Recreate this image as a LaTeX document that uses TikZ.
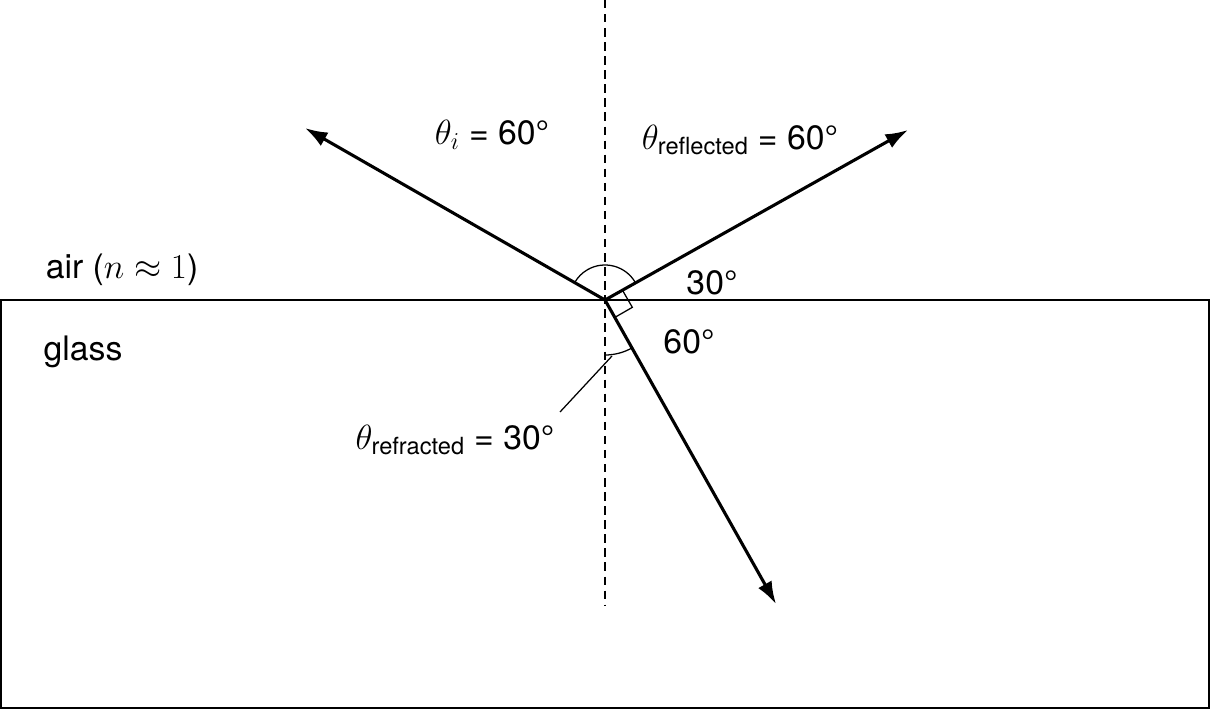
\documentclass[tikz,border=0pt]{standalone}
\usepackage{amsmath}
\usepackage{fontspec}
\setmainfont{TeX Gyre Heros}
\usetikzlibrary{arrows.meta}
\begin{document}
\begin{tikzpicture}[x=0.025cm,y=-0.025cm,
    ray/.style={line width=2.2pt,-{Latex[length=16pt,width=11pt]}},
    thin/.style={line width=0.9pt},
    lbl/.style={font=\fontsize{24}{28}\selectfont,inner sep=0pt}]
    \useasboundingbox (0,0) rectangle (1210,709);
    % surface and normal
    \draw[thin] (1,300) rectangle (1209,708);
    \draw[thin,dash pattern=on 6pt off 4pt] (605,0) -- (605,606);
    \coordinate (o) at (605,300);
    \coordinate (inc) at (305,128);
    \coordinate (refl) at (908,130);
    \coordinate (refr) at (776,604);
    \draw[ray] (o) -- (inc);
    \draw[ray] (o) -- (refl);
    \draw[ray] (o) -- (refr);
    % angle marks
    \draw[thin] (o) ++(35*0.866,-35*0.5) arc[start angle=-30,end angle=-150,radius=35];
    \draw[thin] (o) ++(20*0.866,-20*0.5) -- ++(20*0.5,20*0.866) -- ++(-20*0.866,20*0.5);
    \draw[thin] (o) ++(0,55) arc[start angle=90,end angle=60,radius=55];
    \coordinate (lead) at (612,356);
    \node[lbl] (trefr) at (455,440) {$\theta_{\text{refracted}}$ = 30°};
    \draw[thin] (lead) -- (560,412);
    % labels
    \node[lbl] (ti) at (492,135) {$\theta_i$ = 60°};
    \node[lbl] (trefl) at (740,140) {$\theta_{\text{reflected}}$ = 60°};
    \node[lbl] (a30) at (712,283) {30°};
    \node[lbl] (a60) at (689,342) {60°};
    \node[lbl] (air) at (122,270) {air ($n \approx 1$)};
    \node[lbl] (glass) at (83,352) {glass};
\end{tikzpicture}
\end{document}
